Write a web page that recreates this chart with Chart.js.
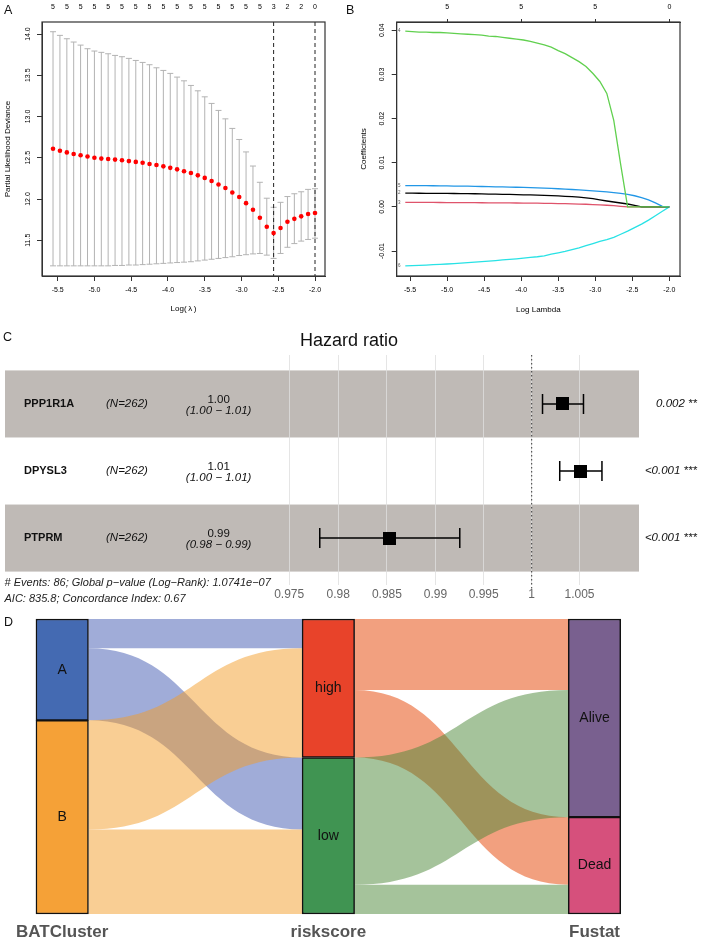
<!DOCTYPE html>
<html>
<head>
<meta charset="utf-8">
<title>LASSO, forest plot and alluvial</title>
<script src="https://cdn.jsdelivr.net/npm/chart.js@4.4.1/dist/chart.umd.min.js"></script>
<style>
  html, body { margin: 0; padding: 0; background: #fff; }
  body { position: relative; width: 707px; height: 943px; overflow: hidden; font-family: "Liberation Sans", Arial, sans-serif; }
  canvas { position: absolute; }
  .tag { position: absolute; font-size: 12.5px; line-height: 1; color: #111; }
</style>
</head>
<body>
<canvas id="cA" width="350" height="320" style="left:0;top:0"></canvas>
<canvas id="cB" width="357" height="320" style="left:350px;top:0"></canvas>
<canvas id="cC" width="707" height="290" style="left:0;top:320px"></canvas>
<canvas id="cD" width="707" height="343" style="left:0;top:600px"></canvas>
<div class="tag" style="left:4px;top:4px">A</div>
<div class="tag" style="left:346px;top:4px">B</div>
<div class="tag" style="left:3px;top:331px">C</div>
<div class="tag" style="left:4px;top:616px">D</div>
<script>
const FONT = "'Liberation Sans', Arial, sans-serif";
Chart.defaults.font.family = FONT;
Chart.defaults.color = '#000';

// ---------- A: cross-validation curve ----------
const logLam = [-5.564, -5.470, -5.376, -5.283, -5.189, -5.095, -5.001, -4.907, -4.814, -4.720,
  -4.626, -4.532, -4.438, -4.345, -4.251, -4.157, -4.063, -3.969, -3.876, -3.782,
  -3.688, -3.594, -3.500, -3.407, -3.313, -3.219, -3.125, -3.031, -2.938, -2.844,
  -2.750, -2.656, -2.563, -2.469, -2.375, -2.281, -2.188, -2.094, -2.000];
const cvm = [12.61, 12.585, 12.565, 12.545, 12.53, 12.515, 12.5, 12.49, 12.485, 12.478,
  12.47, 12.46, 12.45, 12.44, 12.425, 12.412, 12.396, 12.378, 12.36, 12.336,
  12.315, 12.287, 12.256, 12.218, 12.177, 12.133, 12.08, 12.024, 11.95, 11.87,
  11.773, 11.664, 11.587, 11.648, 11.724, 11.76, 11.79, 11.818, 11.83];
const cvUp = [14.028, 13.984, 13.943, 13.903, 13.866, 13.822, 13.794, 13.778, 13.761, 13.741,
  13.725, 13.705, 13.68, 13.656, 13.628, 13.591, 13.559, 13.523, 13.478, 13.433,
  13.377, 13.312, 13.239, 13.159, 13.074, 12.972, 12.856, 12.722, 12.571, 12.40,
  12.203, 12.01, 11.90, 11.96, 12.03, 12.064, 12.088, 12.117, 12.125];
const cvLo = [11.19, 11.19, 11.19, 11.19, 11.19, 11.19, 11.19, 11.19, 11.19, 11.195,
  11.195, 11.2, 11.2, 11.205, 11.21, 11.215, 11.22, 11.225, 11.23, 11.235,
  11.24, 11.25, 11.26, 11.27, 11.28, 11.29, 11.3, 11.315, 11.325, 11.335,
  11.34, 11.32, 11.28, 11.34, 11.415, 11.46, 11.49, 11.51, 11.525];
const nzA = [5, 5, 5, 5, 5, 5, 5, 5, 5, 5, 5, 5, 5, 5, 5, 5, 3, 2, 2, 0];
const topPosA = logLam.filter((v, i) => i % 2 === 0);
const xTicksA = [-5.5, -5.0, -4.5, -4.0, -3.5, -3.0, -2.5, -2.0];
const yTicksA = [11.5, 12.0, 12.5, 13.0, 13.5, 14.0];
const lambdaMin = logLam[32];
const lambda1se = logLam[38];

// ---------- B: coefficient paths ----------
const coefG = [0.0398, 0.0397, 0.0396, 0.0396, 0.0395, 0.0395, 0.0394, 0.0393, 0.0392, 0.0391,
  0.039, 0.0389, 0.0387, 0.0386, 0.0384, 0.0382, 0.038, 0.0378, 0.0375, 0.0371,
  0.0367, 0.0362, 0.0354, 0.0347, 0.0338, 0.0329, 0.0318, 0.0302, 0.0284, 0.0257,
  0.0196, 0.0095, 0, 0, 0, 0, 0, 0, 0];
const coefBl = [0.0048, 0.0048, 0.0048, 0.0048, 0.00478, 0.00476, 0.00474, 0.00472, 0.0047, 0.00468,
  0.00466, 0.00462, 0.00458, 0.00455, 0.00452, 0.00448, 0.00444, 0.0044, 0.00436, 0.0043,
  0.00424, 0.00418, 0.0041, 0.00402, 0.00394, 0.00385, 0.00375, 0.00364, 0.00352, 0.0034,
  0.00324, 0.00305, 0.00282, 0.00252, 0.00212, 0.0016, 0.0009, 0.0001, 0];
const coefK = [0.0031, 0.0031, 0.00309, 0.00308, 0.00307, 0.00306, 0.00305, 0.00303, 0.00301, 0.00299,
  0.00297, 0.00294, 0.00291, 0.00288, 0.00285, 0.00282, 0.00278, 0.00274, 0.0027, 0.00265,
  0.0026, 0.00253, 0.00247, 0.0024, 0.00231, 0.0022, 0.00205, 0.00185, 0.00158, 0.00133,
  0.0011, 0.00088, 0.00065, 0.00035, 0, 0, 0, 0, 0];
const coefR = [0.001, 0.001, 0.001, 0.001, 0.001, 0.00099, 0.00098, 0.00097, 0.00096, 0.00095,
  0.00094, 0.00093, 0.00092, 0.00091, 0.0009, 0.00089, 0.00088, 0.00087, 0.00085, 0.00083,
  0.00081, 0.00078, 0.00075, 0.00072, 0.00068, 0.00064, 0.00059, 0.00053, 0.00046, 0.00037,
  0.00026, 0.00013, 0, 0, 0, 0, 0, 0, 0];
const coefC = [-0.01338, -0.01332, -0.01325, -0.01318, -0.0131, -0.01302, -0.01294, -0.01284, -0.01274, -0.01264,
  -0.01253, -0.01242, -0.0123, -0.01217, -0.01203, -0.01189, -0.01176, -0.0116, -0.01145, -0.0113,
  -0.0111, -0.0107, -0.0104, -0.0101, -0.0097, -0.0093, -0.0088, -0.0083, -0.0078, -0.0074,
  -0.0069, -0.0062, -0.0055, -0.0047, -0.0039, -0.003, -0.002, -0.001, 0];
const coefSeries = [coefG, coefBl, coefK, coefR, coefC];
const coefColors = ['#61D04F', '#2297E6', '#000000', '#DF536B', '#28E2E5'];
const varIdB = ['4', '5', '2', '3', '6'];
const dfPosB = [-5, -4, -3, -2];
const dfB = [5, 5, 5, 0];
const yTicksB = [-0.01, 0, 0.01, 0.02, 0.03, 0.04];

// ---------- C: forest plot ----------
const genes = ['PPP1R1A', 'DPYSL3', 'PTPRM'];
const nTxt = ['(N=262)', '(N=262)', '(N=262)'];
const hr = [1.00325, 1.00514, 0.98523];
const hrLo = [1.00113, 1.00293, 0.97812];
const hrHi = [1.00542, 1.00736, 0.99252];
const hrTxt = ['1.00', '1.01', '0.99'];
const ciTxt = ['(1.00 \u2212 1.01)', '(1.00 \u2212 1.01)', '(0.98 \u2212 0.99)'];
const pTxt = ['0.002 **', '<0.001 ***', '<0.001 ***'];
const hrTicks = [0.975, 0.98, 0.985, 0.99, 0.995, 1, 1.005];
const footer = ['# Events: 86; Global p\u2212value (Log\u2212Rank): 1.0741e\u221207',
  'AIC: 835.8; Concordance Index: 0.67'];

// ---------- D: alluvial ----------
const dAxes = ['BATCluster', 'riskscore', 'Fustat'];
const dTopNames = ['A', 'high', 'Alive'];
const dBotNames = ['B', 'low', 'Dead'];
const dTop = [90, 123, 176];
const dBot = [172, 139, 86];
const dTopCol = ['#446AB2', '#E8432A', '#79608F'];
const dBotCol = ['#F5A137', '#409452', '#D6507C'];
const flowsL = [['A', 'high', 26], ['A', 'low', 64], ['B', 'high', 97], ['B', 'low', 75]];
const flowsR = [['high', 'Alive', 63], ['high', 'Dead', 60], ['low', 'Alive', 113], ['low', 'Dead', 26]];
const flowCol = { A: 'rgba(65,89,177,0.5)', B: 'rgba(243,157,41,0.5)', high: 'rgba(229,65,0,0.5)', low: 'rgba(75,135,55,0.5)' };

// ---------- helpers ----------
const setTicks = values => scale => { scale.ticks = values.map(v => ({ value: v })); };
const fixW = w => scale => { scale.width = w; };
const fixH = h => scale => { scale.height = h; };

const boxPlugin = {
  id: 'box',
  afterDraw(chart) {
    const { ctx, chartArea: a } = chart;
    ctx.save();
    ctx.strokeStyle = '#333';
    ctx.lineWidth = 1.2;
    ctx.strokeRect(a.left, a.top, a.right - a.left, a.bottom - a.top);
    ctx.restore();
  }
};

// R style: y tick labels turned 90 degrees
const rotY = {
  id: 'rotY',
  afterDraw(chart, args, opts) {
    const { ctx } = chart;
    const y = chart.scales.y;
    ctx.save();
    ctx.font = '7px ' + FONT;
    ctx.fillStyle = '#000';
    ctx.textAlign = 'center';
    ctx.textBaseline = 'middle';
    y.ticks.forEach(t => {
      ctx.save();
      ctx.translate(opts.x, y.getPixelForValue(t.value));
      ctx.rotate(-Math.PI / 2);
      ctx.fillText(t.value.toFixed(opts.dec), 0, 0);
      ctx.restore();
    });
    ctx.restore();
  }
};

const cvBars = {
  id: 'cvBars',
  beforeDatasetsDraw(chart) {
    const { ctx, chartArea: a, scales: { x, y } } = chart;
    ctx.save();
    ctx.strokeStyle = '#b3b3b3';
    ctx.lineWidth = 1;
    logLam.forEach((l, i) => {
      const px = x.getPixelForValue(l);
      const pu = y.getPixelForValue(cvUp[i]);
      const pl = y.getPixelForValue(cvLo[i]);
      ctx.beginPath();
      ctx.moveTo(px, pu); ctx.lineTo(px, pl);
      ctx.moveTo(px - 3, pu); ctx.lineTo(px + 3, pu);
      ctx.moveTo(px - 3, pl); ctx.lineTo(px + 3, pl);
      ctx.stroke();
    });
    ctx.strokeStyle = '#222';
    ctx.setLineDash([4, 3]);
    [lambdaMin, lambda1se].forEach(l => {
      const px = x.getPixelForValue(l);
      ctx.beginPath(); ctx.moveTo(px, a.top); ctx.lineTo(px, a.bottom); ctx.stroke();
    });
    ctx.restore();
  }
};

const coefLabels = {
  id: 'coefLabels',
  afterDatasetsDraw(chart) {
    const { ctx, scales: { x, y } } = chart;
    ctx.save();
    ctx.font = '4.5px ' + FONT;
    ctx.fillStyle = '#555';
    ctx.textAlign = 'center';
    ctx.textBaseline = 'middle';
    coefSeries.forEach((s, i) => {
      ctx.fillText(varIdB[i], x.getPixelForValue(logLam[0]) - 6, y.getPixelForValue(s[0]));
    });
    ctx.restore();
  }
};

// ---------- A ----------
new Chart(document.getElementById('cA'), {
  type: 'scatter',
  data: {
    datasets: [{
      data: logLam.map((x, i) => ({ x, y: cvm[i] })),
      pointRadius: 2.3,
      pointBackgroundColor: '#ff0000',
      pointBorderWidth: 0
    }]
  },
  options: {
    responsive: false,
    animation: false,
    devicePixelRatio: 1,
    layout: { padding: { left: 0, right: 25, top: 0, bottom: 0 } },
    plugins: { legend: { display: false }, tooltip: { enabled: false }, rotY: { x: 28.3, dec: 1 } },
    scales: {
      x: {
        type: 'linear', position: 'bottom', min: -5.714, max: -1.864,
        afterBuildTicks: setTicks(xTicksA), afterFit: fixH(44),
        ticks: { font: { size: 7 }, color: '#000', padding: 4.8, maxRotation: 0, autoSkip: false, callback: v => v.toFixed(1) },
        grid: { drawOnChartArea: false, tickLength: 5, color: '#333' },
        border: { color: '#333' },
        title: { display: true, text: 'Log(\u2009\u03bb\u2009)', font: { size: 8 }, padding: { top: 0, bottom: 6 } }
      },
      x2: {
        type: 'linear', position: 'top', min: -5.714, max: -1.864,
        afterBuildTicks: setTicks(topPosA), afterFit: fixH(22),
        ticks: { font: { size: 7 }, color: '#000', padding: 10.5, maxRotation: 0, autoSkip: false, callback: (v, i) => String(nzA[i]) },
        grid: { display: false, drawTicks: false },
        border: { display: false }
      },
      y: {
        type: 'linear', min: 11.067, max: 14.146,
        afterBuildTicks: setTicks(yTicksA), afterFit: fixW(42),
        ticks: { display: false },
        grid: { drawOnChartArea: false, tickLength: 5, color: '#333' },
        border: { color: '#333' },
        title: { display: true, text: 'Partial Likelihood Deviance', font: { size: 8 }, padding: { top: 2.5, bottom: 0 } }
      }
    }
  },
  plugins: [cvBars, boxPlugin, rotY]
});

// ---------- B ----------
new Chart(document.getElementById('cB'), {
  type: 'line',
  data: {
    datasets: coefSeries.map((s, k) => ({
      data: logLam.map((x, i) => ({ x, y: s[i] })),
      borderColor: coefColors[k],
      borderWidth: 1.3,
      pointRadius: 0,
      tension: 0
    }))
  },
  options: {
    responsive: false,
    animation: false,
    devicePixelRatio: 1,
    layout: { padding: { left: 0, right: 27, top: 0, bottom: 0 } },
    plugins: { legend: { display: false }, tooltip: { enabled: false }, rotY: { x: 31.7, dec: 2 } },
    scales: {
      x: {
        type: 'linear', position: 'bottom', min: -5.68, max: -1.856,
        afterBuildTicks: setTicks(xTicksA), afterFit: fixH(44),
        ticks: { font: { size: 7 }, color: '#000', padding: 4.8, maxRotation: 0, autoSkip: false, callback: v => v.toFixed(1) },
        grid: { drawOnChartArea: false, tickLength: 5, color: '#333' },
        border: { color: '#333' },
        title: { display: true, text: 'Log Lambda', font: { size: 8 }, padding: { top: 0, bottom: 5.2 } }
      },
      x2: {
        type: 'linear', position: 'top', min: -5.68, max: -1.856,
        afterBuildTicks: setTicks(dfPosB), afterFit: fixH(22),
        ticks: { font: { size: 7 }, color: '#000', padding: 8.1, maxRotation: 0, autoSkip: false, callback: (v, i) => String(dfB[i]) },
        grid: { drawOnChartArea: false, tickLength: 3, color: '#333' },
        border: { color: '#333' }
      },
      y: {
        type: 'linear', min: -0.01566, max: 0.04188,
        afterBuildTicks: setTicks(yTicksB), afterFit: fixW(46.7),
        ticks: { display: false },
        grid: { drawOnChartArea: false, tickLength: 5, color: '#333' },
        border: { color: '#333' },
        title: { display: true, text: 'Coefficients', font: { size: 8 }, padding: { top: 8.5, bottom: 0 } }
      }
    }
  },
  plugins: [boxPlugin, rotY, coefLabels]
});

// ---------- C ----------
const sq = document.createElement('canvas');
sq.width = 13; sq.height = 13;
const sqCtx = sq.getContext('2d');
sqCtx.fillStyle = '#000';
sqCtx.fillRect(0, 0, 13, 13);

const forest = {
  id: 'forest',
  beforeDraw(chart) {
    const { ctx, chartArea: a, scales: { y } } = chart;
    ctx.save();
    ctx.fillStyle = '#bfbab6';
    genes.forEach((g, i) => {
      if (i % 2 === 0) {
        const t = y.getPixelForValue(i + 0.5), b = y.getPixelForValue(i + 1.5);
        ctx.fillRect(a.left, t, a.right - a.left, b - t);
      }
    });
    ctx.restore();
  },
  beforeDatasetsDraw(chart) {
    const { ctx, chartArea: a, scales: { x, y } } = chart;
    ctx.save();
    const p1 = x.getPixelForValue(1);
    ctx.strokeStyle = '#222';
    ctx.lineWidth = 0.9;
    ctx.setLineDash([1.5, 2.5]);
    ctx.beginPath(); ctx.moveTo(p1, a.top); ctx.lineTo(p1, a.bottom + 6); ctx.stroke();
    ctx.setLineDash([]);
    ctx.strokeStyle = '#000';
    ctx.lineWidth = 1.5;
    genes.forEach((g, i) => {
      const py = y.getPixelForValue(i + 1);
      const l = x.getPixelForValue(hrLo[i]), h = x.getPixelForValue(hrHi[i]);
      ctx.beginPath();
      ctx.moveTo(l, py); ctx.lineTo(h, py);
      ctx.moveTo(l, py - 10); ctx.lineTo(l, py + 10);
      ctx.moveTo(h, py - 10); ctx.lineTo(h, py + 10);
      ctx.stroke();
    });
    ctx.restore();
  },
  afterDatasetsDraw(chart) {
    const { ctx, scales: { y } } = chart;
    ctx.save();
    ctx.fillStyle = '#111';
    ctx.font = '18px ' + FONT;
    ctx.textAlign = 'center';
    ctx.textBaseline = 'middle';
    ctx.fillText('Hazard ratio', 349, 21);
    genes.forEach((g, i) => {
      const py = y.getPixelForValue(i + 1);
      ctx.textBaseline = 'middle';
      ctx.textAlign = 'left';
      ctx.font = 'bold 11px ' + FONT;
      ctx.fillText(g, 24, py);
      ctx.font = 'italic 11.5px ' + FONT;
      ctx.fillText(nTxt[i], 106, py);
      ctx.textAlign = 'right';
      ctx.fillText(pTxt[i], 697, py);
      ctx.textAlign = 'center';
      ctx.textBaseline = 'alphabetic';
      ctx.font = '11.5px ' + FONT;
      ctx.fillText(hrTxt[i], 218.6, py - 1);
      ctx.textBaseline = 'top';
      ctx.font = 'italic 11.5px ' + FONT;
      ctx.fillText(ciTxt[i], 218.6, py + 1);
    });
    ctx.textAlign = 'left';
    ctx.textBaseline = 'middle';
    ctx.font = 'italic 11px ' + FONT;
    ctx.fillStyle = '#222';
    ctx.fillText(footer[0], 4.5, 263);
    ctx.fillText(footer[1], 4.5, 279);
    ctx.restore();
  }
};

new Chart(document.getElementById('cC'), {
  type: 'scatter',
  data: {
    datasets: [{
      data: genes.map((g, i) => ({ x: hr[i], y: i + 1 })),
      pointStyle: sq,
      clip: false
    }]
  },
  options: {
    responsive: false,
    animation: false,
    devicePixelRatio: 1,
    layout: { padding: { left: 4, right: 68, top: 35, bottom: 0 } },
    plugins: { legend: { display: false }, tooltip: { enabled: false } },
    scales: {
      x: {
        type: 'logarithmic', min: 0.946505, max: 1.011263,
        afterBuildTicks: setTicks(hrTicks), afterFit: fixH(25),
        ticks: { font: { size: 12 }, color: '#666', padding: 2.8, maxRotation: 0, autoSkip: false, callback: v => String(v) },
        grid: { color: '#dedede', lineWidth: 0.8, drawTicks: false },
        border: { display: false }
      },
      y: { type: 'linear', reverse: true, min: 0.27, max: 3.70, display: false }
    }
  },
  plugins: [forest]
});

// ---------- D ----------
const alluvial = {
  id: 'alluvial',
  beforeDatasetsDraw(chart) {
    const { ctx, scales: { y } } = chart;
    const bars = chart.getDatasetMeta(0).data;
    const pos = {};
    dTopNames.forEach((n, c) => { pos[n] = { col: c, start: 0 }; });
    dBotNames.forEach((n, c) => { pos[n] = { col: c, start: dTop[c] }; });
    const out = {}, inn = {};
    ctx.save();
    [flowsL, flowsR].forEach(list => list.forEach(([s, t, n]) => {
      const S = pos[s], T = pos[t];
      const o = out[s] || 0, q = inn[t] || 0;
      const x0 = bars[S.col].x + bars[S.col].width / 2;
      const x1 = bars[T.col].x - bars[T.col].width / 2;
      const xm = (x0 + x1) / 2;
      const a0 = y.getPixelForValue(S.start + o), b0 = y.getPixelForValue(S.start + o + n);
      const a1 = y.getPixelForValue(T.start + q), b1 = y.getPixelForValue(T.start + q + n);
      ctx.beginPath();
      ctx.moveTo(x0, a0);
      ctx.bezierCurveTo(xm, a0, xm, a1, x1, a1);
      ctx.lineTo(x1, b1);
      ctx.bezierCurveTo(xm, b1, xm, b0, x0, b0);
      ctx.closePath();
      ctx.fillStyle = flowCol[s];
      ctx.fill();
      out[s] = o + n;
      inn[t] = q + n;
    }));
    ctx.restore();
  },
  afterDatasetsDraw(chart) {
    const { ctx } = chart;
    ctx.save();
    ctx.font = '14px ' + FONT;
    ctx.fillStyle = '#111';
    ctx.textAlign = 'center';
    ctx.textBaseline = 'middle';
    [dTopNames, dBotNames].forEach((names, d) => {
      chart.getDatasetMeta(d).data.forEach((el, c) => {
        ctx.fillText(names[c], el.x, (el.y + el.base) / 2);
      });
    });
    ctx.restore();
  }
};

new Chart(document.getElementById('cD'), {
  type: 'bar',
  data: {
    labels: dAxes,
    datasets: [
      { data: dTop, backgroundColor: dTopCol, borderColor: '#111', borderWidth: 1.5, borderSkipped: false, barThickness: 52.5, clip: false },
      { data: dBot, backgroundColor: dBotCol, borderColor: '#111', borderWidth: 1.5, borderSkipped: false, barThickness: 52.5, clip: false }
    ]
  },
  options: {
    responsive: false,
    animation: false,
    devicePixelRatio: 1,
    layout: { padding: { left: 62.2, right: 112.5, top: 19, bottom: 0 } },
    plugins: { legend: { display: false }, tooltip: { enabled: false } },
    scales: {
      x: {
        type: 'category', stacked: true, offset: false, afterFit: fixH(29),
        ticks: { font: { size: 17, weight: 'bold' }, color: '#555', padding: 7.8, maxRotation: 0, autoSkip: false },
        grid: { display: false, drawTicks: false },
        border: { display: false }
      },
      y: { type: 'linear', stacked: true, reverse: true, min: 0, max: 262, display: false }
    }
  },
  plugins: [alluvial]
});
</script>
</body>
</html>
